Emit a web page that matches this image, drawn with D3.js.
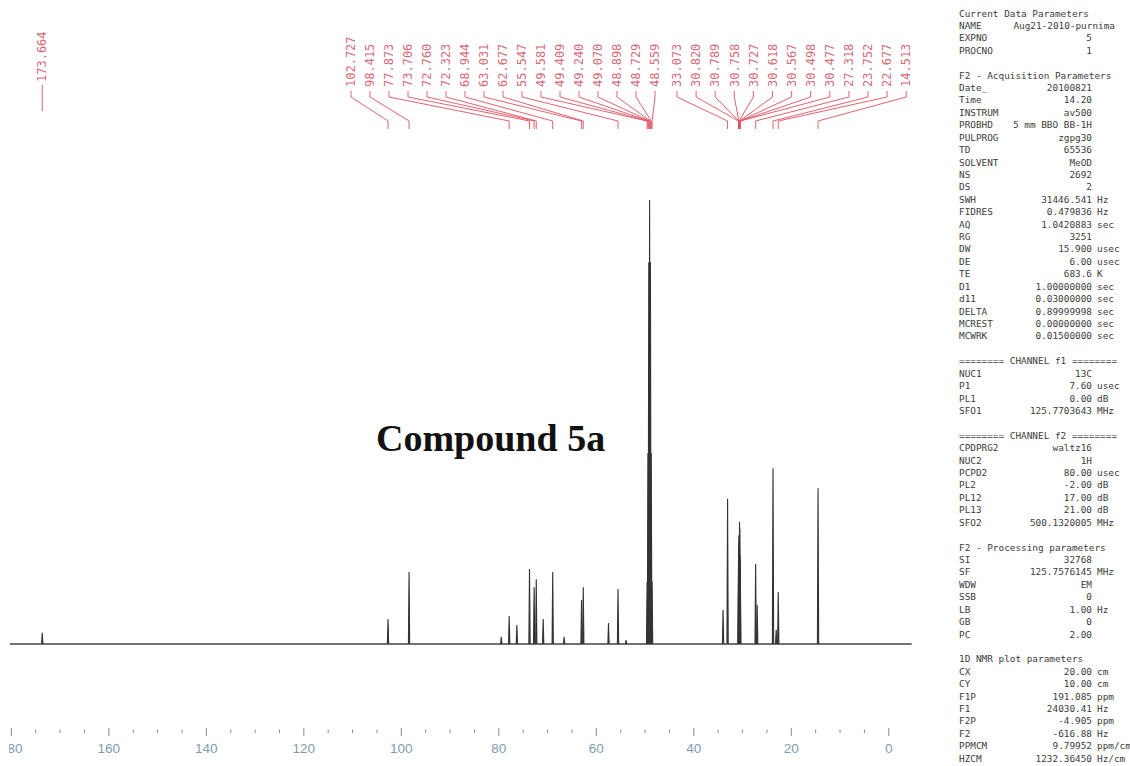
<!DOCTYPE html>
<html>
<head>
<meta charset="utf-8">
<script src="https://cdn.jsdelivr.net/npm/d3@7"></script>
<style>
  html, body { margin: 0; padding: 0; background: #fff; }
  svg { display: block; }
</style>
</head>
<body>
<svg id="chart" width="1130" height="766"></svg>
<script>
// ---- 13C signals that were peak-picked (ppm label, relative intensity; tallest = 100)
const pickedShifts = ["173.664", "102.727", "98.415", "77.873", "73.706", "72.760", "72.323",
  "68.944", "63.031", "62.677", "55.547", "49.581", "49.409", "49.240", "49.070", "48.898",
  "48.729", "48.559", "33.073", "30.820", "30.789", "30.758", "30.727", "30.618", "30.567",
  "30.498", "30.477", "27.318", "23.752", "22.677", "14.513"];
const pickedIntensity = [2.5, 5.6, 16.2, 6.3, 16.9, 12.8, 14.6,
  16.2, 9.9, 12.8, 12.4, 14, 43, 86, 100, 86,
  43, 14, 32.7, 21, 22, 24.5, 23, 27.5, 26,
  20, 19, 18, 39.6, 11.7, 35.1];

// ---- weaker signals without a pick label
const minorShifts = [79.5, 76.3, 70.9, 66.6, 57.5, 53.9, 34.0, 27.0, 23.1];
const minorIntensity = [1.6, 4.3, 5.6, 1.6, 4.7, 0.9, 7.7, 8.8, 3.2];

// ---- ppm axis
const majorTicks = [180, 160, 140, 120, 100, 80, 60, 40, 20, 0];
const minorStep = 5;

// ---- acquisition / processing parameter listing
const paramsCurrent = [["NAME", "Aug21-2010-purnima", ""], ["EXPNO", "5", ""], ["PROCNO", "1", ""]];
const paramsAcq = [["Date_", "20100821", ""], ["Time", "14.20", ""], ["INSTRUM", "av500", ""],
  ["PROBHD", "5 mm BBO BB-1H", ""], ["PULPROG", "zgpg30", ""], ["TD", "65536", ""],
  ["SOLVENT", "MeOD", ""], ["NS", "2692", ""], ["DS", "2", ""], ["SWH", "31446.541", "Hz"],
  ["FIDRES", "0.479836", "Hz"], ["AQ", "1.0420883", "sec"], ["RG", "3251", ""],
  ["DW", "15.900", "usec"], ["DE", "6.00", "usec"], ["TE", "683.6", "K"],
  ["D1", "1.00000000", "sec"], ["d11", "0.03000000", "sec"], ["DELTA", "0.89999998", "sec"],
  ["MCREST", "0.00000000", "sec"], ["MCWRK", "0.01500000", "sec"]];
const paramsF1 = [["NUC1", "13C", ""], ["P1", "7.60", "usec"], ["PL1", "0.00", "dB"],
  ["SFO1", "125.7703643", "MHz"]];
const paramsF2 = [["CPDPRG2", "waltz16", ""], ["NUC2", "1H", ""], ["PCPD2", "80.00", "usec"],
  ["PL2", "-2.00", "dB"], ["PL12", "17.00", "dB"], ["PL13", "21.00", "dB"],
  ["SFO2", "500.1320005", "MHz"]];
const paramsProc = [["SI", "32768", ""], ["SF", "125.7576145", "MHz"], ["WDW", "EM", ""],
  ["SSB", "0", ""], ["LB", "1.00", "Hz"], ["GB", "0", ""], ["PC", "2.00", ""]];
const paramsPlot = [["CX", "20.00", "cm"], ["CY", "10.00", "cm"], ["F1P", "191.085", "ppm"],
  ["F1", "24030.41", "Hz"], ["F2P", "-4.905", "ppm"], ["F2", "-616.88", "Hz"],
  ["PPMCM", "9.79952", "ppm/cm"], ["HZCM", "1232.36450", "Hz/cm"]];

const paramSections = [
  { title: "Current Data Parameters", rows: paramsCurrent },
  { title: "F2 - Acquisition Parameters", rows: paramsAcq },
  { title: "======== CHANNEL f1 ========", rows: paramsF1 },
  { title: "======== CHANNEL f2 ========", rows: paramsF2 },
  { title: "F2 - Processing parameters", rows: paramsProc },
  { title: "1D NMR plot parameters", rows: paramsPlot }
];

// ---------------------------------------------------------------------------
const svg = d3.select("#chart");
const baseY = 644;

const x = d3.scaleLinear().domain([182.33, -4.76]).range([0, 912]);
const y = d3.scaleLinear().domain([0, 100]).range([baseY, 200]);

// plot area starts a few pixels in from the page edge
svg.append("defs").append("clipPath").attr("id", "plotEdge")
  .append("rect").attr("x", 9).attr("y", 0).attr("width", 940).attr("height", 766);

// ---- spectrum: baseline plus one narrow line per resonance
const peaks = pickedShifts.map((s, i) => ({ ppm: +s, h: pickedIntensity[i] }))
  .concat(minorShifts.map((s, i) => ({ ppm: s, h: minorIntensity[i] })))
  .sort((a, b) => b.ppm - a.ppm);

const spec = svg.append("g").attr("class", "spectrum");
spec.append("line")
  .attr("x1", x(180.3)).attr("x2", x(-4.7))
  .attr("y1", y(0)).attr("y2", y(0))
  .attr("stroke", "#444").attr("stroke-width", 1.7);

const halfWidth = 0.13; // ppm
const peakLine = d3.line().x(d => x(d[0])).y(d => y(d[1]));
spec.selectAll("path.peak")
  .data(peaks)
  .join("path")
  .attr("class", "peak")
  .attr("d", d => peakLine([[d.ppm + halfWidth, 0], [d.ppm, d.h], [d.ppm - halfWidth, 0]]))
  .attr("fill", "#555")
  .attr("stroke", "#333")
  .attr("stroke-width", 1.1)
  .attr("stroke-linejoin", "miter");

// ---- ppm axis
const axisY = 731;
const axis = svg.append("g").attr("class", "axis").attr("clip-path", "url(#plotEdge)");
const allTicks = d3.range(0, 181, minorStep);
axis.selectAll("line.tick")
  .data(allTicks)
  .join("line")
  .attr("x1", d => x(d)).attr("x2", d => x(d))
  .attr("y1", d => majorTicks.includes(d) ? axisY - 3 : axisY - 1.5)
  .attr("y2", d => majorTicks.includes(d) ? axisY + 5 : axisY + 2)
  .attr("stroke", "#8a8a8a")
  .attr("stroke-width", 1);
axis.selectAll("text")
  .data(majorTicks)
  .join("text")
  .attr("x", d => x(d))
  .attr("y", 753)
  .attr("text-anchor", "middle")
  .attr("font-family", "Liberation Sans, Arial, sans-serif")
  .attr("font-size", 13.5)
  .attr("fill", "#7d9db0")
  .text(d => d);

// ---- peak-pick labels with connectors
const labelColor = "#d86a78";
const connColor = "#e0505f";
const slots = pickedShifts.map((s, i) => {
  let lx;
  if (i === 0) lx = x(+s);
  else if (i <= 17) lx = 351 + (i - 1) * 19.0;
  else lx = 677 + (i - 18) * 19.1;
  return { label: s, ppm: +s, lx, single: i === 0 };
});

const labels = svg.append("g").attr("class", "pick-labels");
labels.selectAll("text")
  .data(slots)
  .join("text")
  .attr("transform", d => `translate(${d.lx + 4.2},${d.single ? 82 : 87}) rotate(-90)`)
  .attr("font-family", "DejaVu Sans Mono, monospace")
  .attr("font-size", 12)
  .attr("fill", labelColor)
  .text(d => d.label);

labels.selectAll("path")
  .data(slots)
  .join("path")
  .attr("d", d => {
    const px = x(d.ppm);
    if (d.single) return `M${px},85 L${px},111`;
    return `M${d.lx},91 L${d.lx},97 L${px},121 L${px},129`;
  })
  .attr("fill", "none")
  .attr("stroke", connColor)
  .attr("stroke-width", 0.9);

// ---- compound title
svg.append("text")
  .attr("x", 376).attr("y", 451)
  .attr("font-family", "Liberation Serif, Times New Roman, serif")
  .attr("font-weight", "bold")
  .attr("font-size", 38)
  .attr("fill", "#111")
  .text("Compound 5a");

// ---- parameter listing
const panel = svg.append("g").attr("class", "params")
  .attr("font-family", "DejaVu Sans Mono, monospace")
  .attr("font-size", 9.4)
  .attr("fill", "#3c3c3c");
const lineH = 12.42;
const keyX = 959, valX = 1092, unitX = 1097;
let line = 0;
paramSections.forEach((sec, si) => {
  if (si > 0) line += 1;
  panel.append("text").attr("x", keyX).attr("y", 16.5 + line * lineH).text(sec.title);
  line += 1;
  sec.rows.forEach(r => {
    const yy = 16.5 + line * lineH;
    panel.append("text").attr("x", keyX).attr("y", yy).text(r[0]);
    const long = r[1].length > 14;
    panel.append("text")
      .attr("x", long ? 1115 : valX).attr("y", yy)
      .attr("text-anchor", "end")
      .text(r[1]);
    if (r[2]) panel.append("text").attr("x", unitX).attr("y", yy).text(r[2]);
    line += 1;
  });
});
</script>
</body>
</html>
